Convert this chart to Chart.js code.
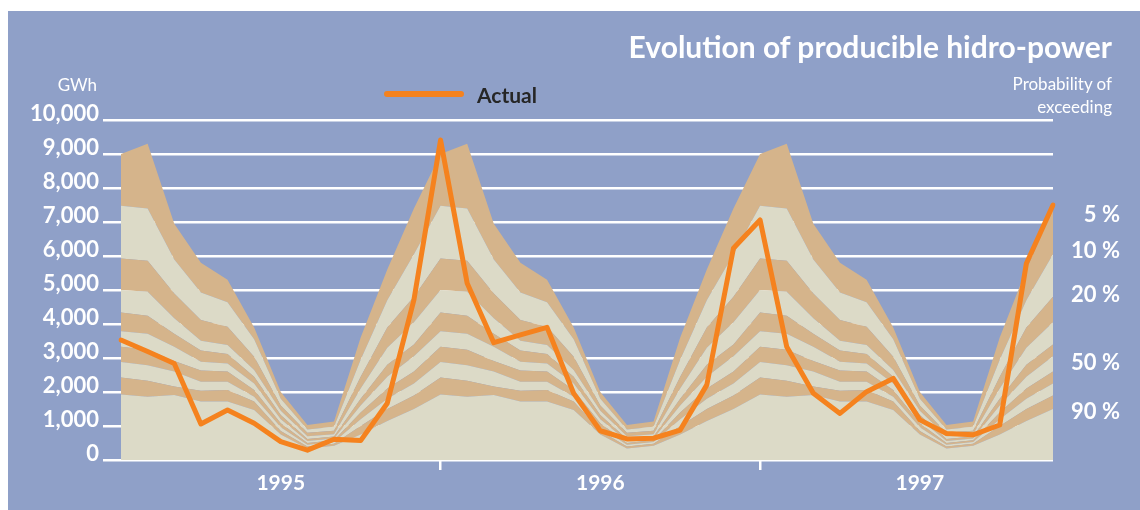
<!DOCTYPE html>
<html>
<head>
<meta charset="utf-8">
<script src="https://cdn.jsdelivr.net/npm/chart.js@4.4.1/dist/chart.umd.min.js"></script>
<style>
    body { margin: 0; background: #fff; }
    #wrap { position: relative; width: 1140px; height: 510px; font-family: Lato, "Open Sans", sans-serif; }
    #panel { position: absolute; left: 8px; top: 11px; right: 0; bottom: 0; background: #8fa0c8; }
    #chart { position: absolute; left: 0; top: 0; }
    .txt { position: absolute; color: #fff; white-space: nowrap; }
    #title { right: 28px; top: 28px; font-size: 30px; font-weight: 700; line-height: 36px; }
    #unit { right: 1043px; top: 74px; font-size: 17px; line-height: 22px; }
    #prob { right: 28px; top: 72px; font-size: 17px; line-height: 23px; text-align: right; }
    #legLine { position: absolute; left: 384px; top: 91px; width: 80px; height: 6px; border-radius: 3px; background: #f5821e; }
    #legText { left: 477px; top: 81px; font-size: 21px; font-weight: 700; line-height: 28px; color: #262626; }
</style>
</head>
<body>
<div id="wrap">
    <div id="panel"></div>
    <canvas id="chart" width="1140" height="510"></canvas>
    <div class="txt" id="title">Evolution of producible hidro-power</div>
    <div class="txt" id="unit">GWh</div>
    <div class="txt" id="prob">Probability of<br>exceeding</div>
    <div id="legLine"></div>
    <div class="txt" id="legText">Actual</div>
</div>
<script>
// categories
const years = ["1995", "1996", "1997"];
const monthNames = ["Jan", "Feb", "Mar", "Apr", "May", "Jun", "Jul", "Aug", "Sep", "Oct", "Nov", "Dec"];
const categories = years.flatMap(y => monthNames.map(m => m + " " + y));

// actual producible energy, GWh
const actual = [
    3530, 3190, 2840, 1060, 1470, 1080, 540, 290, 610, 570, 1670, 4710,
    9410, 5200, 3450, 3680, 3900, 1960, 860, 620, 640, 880, 2210, 6230,
    7060, 3330, 1960, 1370, 2010, 2400, 1180, 780, 740, 1030, 5780, 7500
];

// monthly values with a given probability of exceeding (same pattern every year)
const p5  = [9000, 9300, 6950, 5800, 5300, 3900, 2000, 1030, 1130, 3600, 5600, 7400];
const p10 = [7480, 7400, 5900, 4930, 4640, 3550, 1800,  900,  980, 2950, 4700, 6050];
const p20 = [5930, 5860, 4900, 4120, 3920, 3040, 1600,  800,  860, 2450, 3900, 4800];
const p30 = [5000, 4950, 4170, 3510, 3380, 2650, 1450,  700,  760, 2100, 3300, 4050];
const p40 = [4340, 4240, 3710, 3220, 3120, 2450, 1320,  620,  690, 1800, 2800, 3400];
const p50 = [3790, 3710, 3330, 2890, 2840, 2250, 1200,  560,  630, 1600, 2450, 3050];
const p60 = [3330, 3240, 2910, 2630, 2600, 2060, 1080,  500,  580, 1400, 2100, 2600];
const p70 = [2880, 2790, 2600, 2300, 2300, 1860,  960,  450,  530, 1200, 1800, 2250];
const p80 = [2430, 2330, 2160, 2040, 2060, 1720,  850,  400,  480, 1000, 1500, 1900];
const p90 = [1930, 1860, 1910, 1720, 1720, 1470,  750,  340,  420,  750, 1150, 1500];

// right-hand labels
const probTicks = [7200, 6150, 4850, 2850, 1400];
const probLabels = ["5 %", "10 %", "20 %", "50 %", "90 %"];

const TAN = "#d5b48b";
const LIGHT = "#dcdac7";
const ORANGE = "#f5821e";

const threeYears = a => [...a, ...a, ...a];
const bands = [p90, p80, p70, p60, p50, p40, p30, p20, p10, p5];

// area below 90 % is light, then the bands alternate tan / light
const datasets = bands.map((b, i) => ({
    label: "band" + i,
    data: threeYears(b),
    borderWidth: 0,
    pointRadius: 0,
    tension: 0,
    fill: i === 0 ? "origin" : "-1",
    backgroundColor: i % 2 === 0 ? LIGHT : TAN
}));

datasets.push({
    label: "Actual",
    data: actual,
    borderColor: ORANGE,
    borderWidth: 5,
    borderJoinStyle: "round",
    borderCapStyle: "round",
    pointRadius: 0,
    tension: 0,
    fill: false,
    order: -1
});

const tickFont = { family: "Lato", size: 22, weight: "bold" };

new Chart(document.getElementById("chart"), {
    type: "line",
    data: { labels: categories, datasets: datasets },
    options: {
        responsive: false,
        animation: false,
        layout: { padding: { top: 120, right: 20, bottom: 10, left: 0 } },
        plugins: { legend: { display: false }, tooltip: { enabled: false } },
        scales: {
            x: {
                type: "category",
                offset: false,
                border: { display: false },
                grid: {
                    drawOnChartArea: false,
                    tickLength: 10,
                    lineWidth: 2.5,
                    color: ctx => (ctx.index === 12 || ctx.index === 24) ? "#ffffff" : "rgba(0,0,0,0)"
                },
                ticks: {
                    autoSkip: false,
                    maxRotation: 0,
                    padding: 1,
                    color: "#ffffff",
                    font: { family: "Lato", size: 21, weight: "bold" },
                    callback: (v, i) => i % 12 === 6 ? years[Math.floor(i / 12)] : ""
                },
                afterFit: s => { s.height = 40; }
            },
            y: {
                min: 0,
                max: 10000,
                border: { display: false },
                grid: { color: "#ffffff", lineWidth: 2.5, tickLength: 18 },
                ticks: {
                    stepSize: 1000,
                    padding: 4,
                    labelOffset: -6,
                    color: "#ffffff",
                    font: tickFont,
                    callback: v => v.toLocaleString("en-US")
                },
                afterFit: s => { s.width = 121; }
            },
            y2: {
                position: "right",
                min: 0,
                max: 10000,
                border: { display: false },
                grid: { display: false },
                afterBuildTicks: s => { s.ticks = probTicks.map(v => ({ value: v })); },
                ticks: {
                    crossAlign: "far",
                    color: "#ffffff",
                    font: tickFont,
                    callback: v => probLabels[probTicks.indexOf(v)]
                },
                afterFit: s => { s.width = 67; }
            }
        }
    }
});
</script>
</body>
</html>
